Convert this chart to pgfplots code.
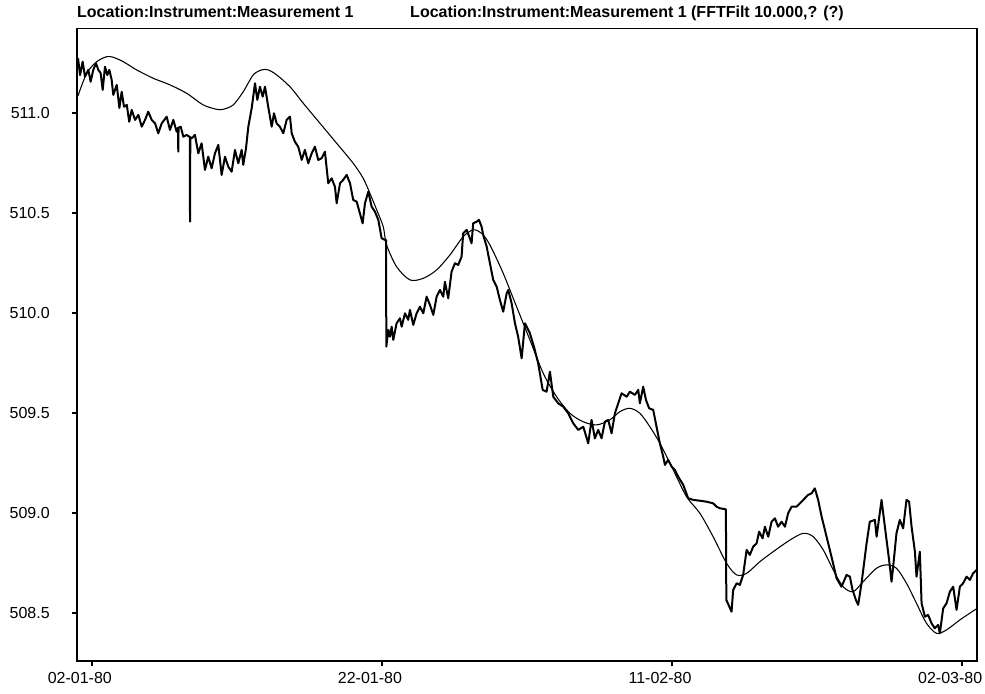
\documentclass[border=0pt]{standalone}
\usepackage{fontspec}
\setmainfont{Liberation Sans}
\usepackage{pgfplots}
\pgfplotsset{compat=1.18}

% measured series, x in days from 02-01-80
\pgfplotstableread{
d v
-0.95 511.272
-0.81 511.188
-0.63 511.255
-0.47 511.180
-0.24 511.214
-0.08 511.155
0.10 511.214
0.29 511.247
0.45 511.214
0.61 511.198
0.75 511.114
0.91 511.230
1.07 511.188
1.21 511.214
1.37 511.164
1.48 511.089
1.72 511.139
1.90 511.024
2.06 511.105
2.22 511.030
2.41 511.039
2.58 510.955
2.75 511.014
2.98 510.964
3.21 510.989
3.44 510.930
3.67 510.964
3.89 511.005
4.13 510.964
4.36 510.947
4.58 510.897
4.82 510.947
5.16 510.980
5.39 510.914
5.62 510.964
5.85 510.905
5.95 510.925
5.96 510.805
5.98 510.925
6.13 510.930
6.31 510.880
6.54 510.889
6.72 510.880
6.76 510.880
6.77 510.455
6.79 510.878
6.89 510.872
7.11 510.889
7.34 510.797
7.57 510.847
7.80 510.714
8.03 510.780
8.26 510.722
8.49 510.797
8.72 510.839
8.95 510.689
9.18 510.780
9.41 510.730
9.64 510.705
9.87 510.814
10.10 510.747
10.33 510.814
10.44 510.739
10.63 510.822
10.79 510.930
11.02 511.022
11.25 511.147
11.41 511.064
11.59 511.130
11.78 511.080
11.94 511.130
12.16 511.030
12.40 510.930
12.56 510.997
12.74 510.947
12.97 510.930
13.20 510.897
13.43 510.964
13.66 510.980
13.78 510.897
14.00 510.855
14.23 510.830
14.47 510.764
14.69 510.814
14.92 510.747
15.16 510.797
15.38 510.830
15.61 510.764
15.84 510.772
16.07 510.805
16.30 510.647
16.53 510.672
16.76 510.630
16.88 510.547
17.11 510.647
17.33 510.664
17.57 510.689
17.80 510.647
18.02 510.564
18.26 510.555
18.48 510.497
18.67 510.447
18.83 510.547
19.06 510.605
19.29 510.530
19.52 510.505
19.75 510.464
19.98 510.372
20.21 510.364
20.29 510.364
20.30 509.830
20.44 509.914
20.55 509.880
20.67 509.930
20.78 509.864
21.01 509.947
21.24 509.972
21.36 509.930
21.59 509.997
21.81 509.964
21.93 510.014
22.16 509.939
22.39 509.997
22.62 510.030
22.85 509.997
23.08 510.080
23.31 510.039
23.54 509.989
23.77 510.080
24.00 510.114
24.23 510.080
24.34 510.155
24.57 510.072
24.80 510.205
25.03 510.247
25.26 510.239
25.49 510.280
25.60 510.397
25.84 510.414
26.02 510.380
26.18 510.347
26.29 510.447
26.53 510.455
26.69 510.464
26.87 510.430
26.98 510.389
27.22 510.330
27.40 510.264
27.67 510.164
27.91 510.130
28.13 510.064
28.36 510.005
28.60 510.097
28.71 510.114
28.94 510.047
29.17 509.947
29.39 509.880
29.63 509.772
29.86 509.947
30.20 509.897
30.48 509.830
30.77 509.747
31.08 509.614
31.35 509.605
31.58 509.705
31.81 509.580
32.15 509.547
32.50 509.530
32.84 509.497
33.19 509.447
33.53 509.414
33.88 509.430
34.22 509.347
34.45 509.464
34.68 509.372
34.91 509.414
35.14 509.372
35.37 509.455
35.60 509.464
35.83 509.397
36.06 509.497
36.29 509.547
36.52 509.597
36.87 509.580
37.09 509.605
37.44 509.589
37.67 509.614
37.78 509.547
38.01 509.630
38.20 509.564
38.42 509.522
38.70 509.514
38.93 509.430
39.16 509.347
39.39 509.280
39.51 509.239
39.73 509.264
39.97 509.230
40.19 509.214
40.42 509.180
40.77 509.139
41.11 509.072
41.46 509.064
41.92 509.060
42.38 509.055
42.83 509.047
43.07 509.030
43.30 509.022
43.71 509.017
43.74 508.564
44.10 508.505
44.21 508.613
44.45 508.647
44.67 508.639
44.90 508.689
45.14 508.814
45.36 508.789
45.59 508.830
45.83 508.847
46.00 508.905
46.24 508.872
46.40 508.930
46.63 508.880
46.86 508.955
47.09 508.972
47.31 508.930
47.55 508.955
47.78 508.930
48.00 508.997
48.24 509.030
48.58 509.030
48.93 509.055
49.15 509.072
49.38 509.089
49.62 509.097
49.84 509.122
50.07 509.064
50.31 508.980
50.65 508.880
50.99 508.780
51.34 508.672
51.68 508.630
52.03 508.689
52.26 508.680
52.44 508.614
52.67 508.564
52.83 508.539
53.06 508.647
53.41 508.847
53.63 508.955
53.98 508.964
54.10 508.880
54.44 509.064
54.67 508.930
54.96 508.764
55.13 508.655
55.24 508.730
55.47 508.897
55.70 508.964
55.93 508.922
56.16 509.064
56.34 509.055
56.51 508.930
56.74 508.805
56.85 508.680
57.08 508.805
57.20 508.547
57.43 508.480
57.65 508.489
57.89 508.447
58.11 508.422
58.34 508.439
58.46 508.397
58.69 508.522
58.92 508.547
59.15 508.605
59.38 508.630
59.61 508.514
59.84 508.630
60.06 508.647
60.30 508.680
60.53 508.664
60.75 508.697
61.00 508.714
}\measured

% FFT filtered series
\pgfplotstableread{
d v
-0.95 511.085
-0.35 511.197
0.34 511.255
1.03 511.280
1.48 511.277
2.17 511.255
3.09 511.214
4.24 511.172
5.39 511.139
6.54 511.097
7.68 511.039
8.61 511.017
9.06 511.017
9.75 511.039
10.44 511.105
11.13 511.189
11.71 511.214
12.16 511.214
12.74 511.189
13.66 511.130
14.58 511.047
15.73 510.947
16.88 510.847
18.02 510.747
18.71 510.672
19.17 510.597
19.64 510.514
20.09 510.430
20.32 510.339
21.01 510.230
21.93 510.164
22.85 510.172
23.77 510.214
24.69 510.289
25.60 510.380
26.29 510.414
26.87 510.397
27.44 510.339
28.36 510.197
29.28 510.030
30.20 509.864
31.12 509.697
32.04 509.580
32.96 509.497
33.87 509.455
34.80 509.439
35.71 509.464
36.40 509.505
37.09 509.522
37.78 509.497
38.47 509.430
39.16 509.347
40.08 509.214
41.00 509.080
41.92 508.997
42.83 508.880
43.76 508.747
44.45 508.689
45.14 508.697
46.05 508.755
46.97 508.805
48.12 508.863
49.04 508.897
49.73 508.880
50.42 508.814
51.11 508.714
51.79 508.630
52.48 508.605
53.17 508.655
54.09 508.722
54.78 508.739
55.47 508.722
56.16 508.647
56.85 508.547
57.54 508.447
58.23 508.397
58.92 508.414
59.84 508.464
60.87 508.514
61.00 508.520
}\filtered

\begin{document}
\begin{tikzpicture}
\useasboundingbox (-57.975pt,-24pt) rectangle (680.775pt,495.75pt);
\begin{axis}[
  name=ax,
  at={(0,0)}, anchor=south west,
  scale only axis, width=674.55pt, height=474.375pt,
  xmin=-1, xmax=61, ymin=508.2585, ymax=511.421,
  axis line style={line width=1.3pt},
  tick align=outside, major tick length=4pt,
  tick style={line width=1.3pt, black},
  xtick pos=bottom, ytick pos=left,
  xtick={0,20,40,60},
  xticklabels={02-01-80,22-01-80,11-02-80,02-03-80},
  ytick={508.5,509,509.5,510,510.5,511},
  /pgf/number format/assume math mode=true,
  /pgf/number format/1000 sep={},
  yticklabel style={/pgf/number format/fixed, /pgf/number format/fixed zerofill, /pgf/number format/precision=1},
  tick label style={font=\fontsize{12}{14}\selectfont, inner sep=0pt},
  xticklabel style={anchor=north, xshift=-9pt, yshift=-4.2pt},
  yticklabel style={anchor=east, xshift=-16.5pt},
]
\addplot[black, line width=1.5pt, line join=round] table[x=d, y=v] {\measured};
\addplot[black, line width=0.8pt, smooth] table[x=d, y=v] {\filtered};
\end{axis}
\node[anchor=base west, inner sep=0pt, font=\fontsize{12}{14}\selectfont\bfseries]
  at ([xshift=-0.3pt, yshift=8.25pt]ax.north west) {Location:Instrument:Measurement 1};
\node[anchor=base west, inner sep=0pt, font=\fontsize{12}{14}\selectfont\bfseries]
  at ([xshift=249.5pt, yshift=8.25pt]ax.north west) {Location:Instrument:Measurement 1 (FFTFilt 10.000,? (?)};
\end{tikzpicture}
\end{document}
